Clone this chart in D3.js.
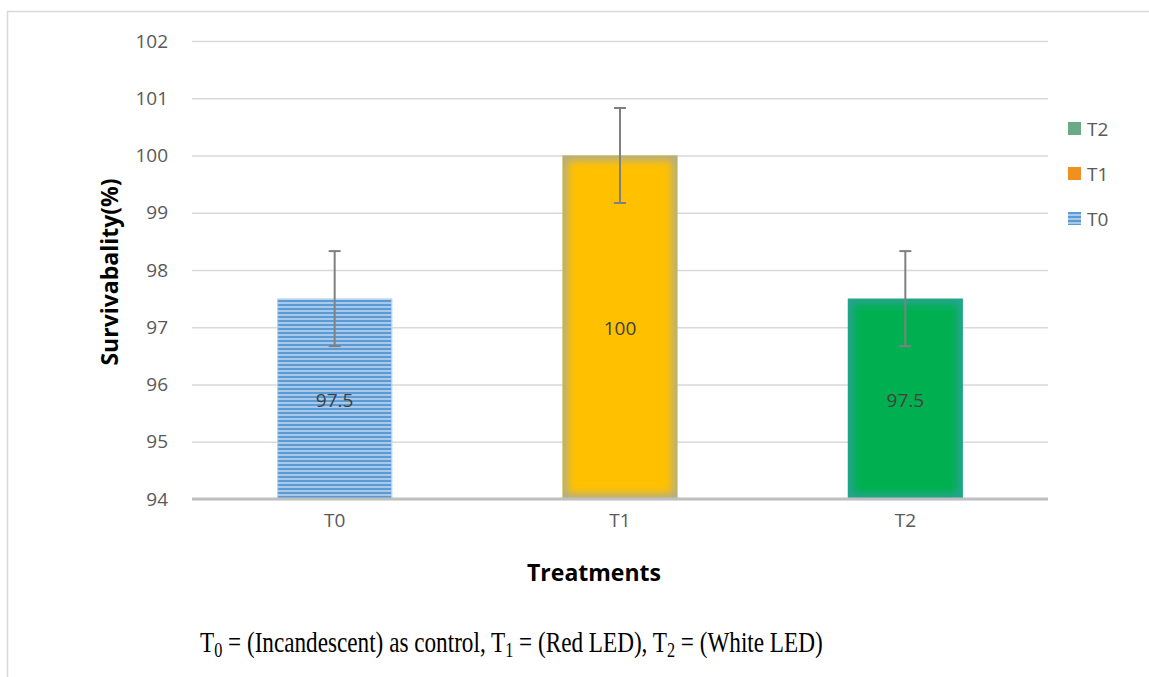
<!DOCTYPE html>
<html><head><meta charset="utf-8">
<script src="https://cdn.jsdelivr.net/npm/d3@7"></script>
<style>body{margin:0;background:#fff}svg{display:block}</style>
</head><body>
<svg id="c" width="1149" height="677"></svg>
<script>
const categories = ["T0", "T1", "T2"];
const values = [97.5, 100, 97.5];
const errors = [0.83, 0.83, 0.83];
const yTicks = [94, 95, 96, 97, 98, 99, 100, 101, 102];
const legendOrder = ["T2", "T1", "T0"];
const barLabels = ["97.5", "100", "97.5"];

const svg = d3.select("#c");
const W = 1149, H = 677;
const m = {left: 192, right: 1048, top: 41, bottom: 499};
const font = "'Open Sans', sans-serif";
const fs = "19px";

// frame
svg.append("path").attr("d", `M7.5,${H} V11.5 H${W}`).attr("fill","none").attr("stroke","#d9d9d9").attr("stroke-width",1.5);

const x = d3.scaleBand().domain(categories).range([m.left, m.right]).paddingInner(0.597).paddingOuter(0.2985);
const y = d3.scaleLinear().domain([94, 102]).range([m.bottom, m.top]);

const defs = svg.append("defs");
const pat = defs.append("pattern").attr("id","stripes").attr("patternUnits","userSpaceOnUse").attr("width",8).attr("height",4);
pat.append("rect").attr("width",8).attr("height",4).attr("fill","#a9c9ea");
pat.append("rect").attr("width",8).attr("height",2).attr("fill","#5b9bd5");
const blur = defs.append("filter").attr("id","blur").attr("x","-10%").attr("y","-10%").attr("width","120%").attr("height","120%");
blur.append("feGaussianBlur").attr("stdDeviation",4);

// gridlines
const yAxis = d3.axisLeft(y).tickValues(yTicks).tickSize(-(m.right - m.left)).tickPadding(24).tickFormat(d3.format("d"));
const ga = svg.append("g").attr("transform",`translate(${m.left},0)`).call(yAxis);
ga.select(".domain").remove();
ga.selectAll(".tick line").attr("stroke","#d9d9d9").attr("stroke-width",1.5);
ga.selectAll(".tick text").attr("fill","#595959").style("font-family",font).style("font-size",fs);

// bars
const fills = ["url(#stripes)", "#ffc000", "#00b050"];
const edges = ["#9dc3e6", "#8fa8c0", "#3a9eb0"];
const bw = x.bandwidth();
categories.forEach((c, i) => {
  const x0 = x(c), y0 = y(values[i]), h = y(94) - y(values[i]);
  const clipId = "clip" + i;
  defs.append("clipPath").attr("id", clipId).append("rect").attr("x", x0).attr("y", y0).attr("width", bw).attr("height", h);
  svg.append("rect").attr("x", x0).attr("y", y0).attr("width", bw).attr("height", h).attr("fill", fills[i]);
  if (i > 0) {
    svg.append("g").attr("clip-path", `url(#${clipId})`)
      .append("rect").attr("x", x0).attr("y", y0).attr("width", bw).attr("height", h)
      .attr("fill","none").attr("stroke", edges[i]).attr("stroke-opacity",0.8).attr("stroke-width", 9).attr("filter","url(#blur)");
  } else {
    svg.append("rect").attr("x", x0+0.5).attr("y", y0+0.5).attr("width", bw-1).attr("height", h-1)
      .attr("fill","none").attr("stroke","#bdd7ee").attr("stroke-width",1);
  }
});

// baseline
svg.append("line").attr("x1", m.left).attr("x2", m.right).attr("y1", y(94)).attr("y2", y(94)).attr("stroke","#bfbfbf").attr("stroke-width",3);

// x axis labels
const xAxis = d3.axisBottom(x).tickSize(0).tickPadding(15);
const gx = svg.append("g").attr("transform",`translate(0,${y(94)})`).call(xAxis);
gx.select(".domain").remove();
gx.selectAll(".tick text").attr("fill","#595959").style("font-family",font).style("font-size",fs);

// error bars
categories.forEach((c, i) => {
  const cx = x(c) + bw/2;
  const g = svg.append("g").attr("stroke","#808080").attr("stroke-width",2);
  g.append("line").attr("x1",cx).attr("x2",cx).attr("y1",y(values[i]+errors[i])).attr("y2",y(values[i]-errors[i]));
  [values[i]+errors[i], values[i]-errors[i]].forEach(v => {
    g.append("line").attr("x1",cx-6).attr("x2",cx+6).attr("y1",y(v)).attr("y2",y(v));
  });
});

// bar labels
categories.forEach((c, i) => {
  svg.append("text").attr("x", x(c)+bw/2).attr("y", (y(values[i]) + y(94))/2 + 1)
    .attr("text-anchor","middle").attr("dominant-baseline","central")
    .attr("fill","#404040").style("font-family",font).style("font-size",fs).text(barLabels[i]);
});

// axis titles
svg.append("text").attr("transform",`translate(118,272) rotate(-90)`).attr("text-anchor","middle")
  .style("font-family",font).style("font-weight","bold").style("font-size","23px").attr("fill","#000").text("Survivabality(%)");
svg.append("text").attr("x", 594).attr("y", 581).attr("text-anchor","middle")
  .style("font-family",font).style("font-weight","bold").style("font-size","23px").attr("fill","#000").text("Treatments");

// legend
const legColors = {T2: "#6aaa86", T1: "#f0901e", T0: "url(#stripes)"};
legendOrder.forEach((k, i) => {
  const ly = 128 + i*45;
  svg.append("rect").attr("x",1068).attr("y",ly-6).attr("width",13).attr("height",13).attr("fill",legColors[k]);
  svg.append("text").attr("x",1087).attr("y",ly+1).attr("dominant-baseline","central")
    .attr("fill","#595959").style("font-family",font).style("font-size",fs).text(k);
});

// footnote (condensed serif)
const fnG = svg.append("g");
const fn = fnG.append("text").attr("x",0).attr("y",0)
  .style("font-family","'Liberation Serif', 'Times New Roman', serif").style("font-size","30px").attr("fill","#000");
const parts = [["T",0],["0",1],[" = (Incandescent) as control, T",0],["1",1],[" = (Red LED), T",0],["2",1],[" = (White LED)",0]];
parts.forEach(([t, sub]) => {
  const ts = fn.append("tspan").text(t);
  if (sub) ts.attr("dy", 5).style("font-size","21px");
  else if (t !== "T") ts.attr("dy", -5);
});
const natural = fn.node().getComputedTextLength();
fnG.attr("transform", `translate(200,652) scale(${623/natural},1)`);
</script>
</body></html>
